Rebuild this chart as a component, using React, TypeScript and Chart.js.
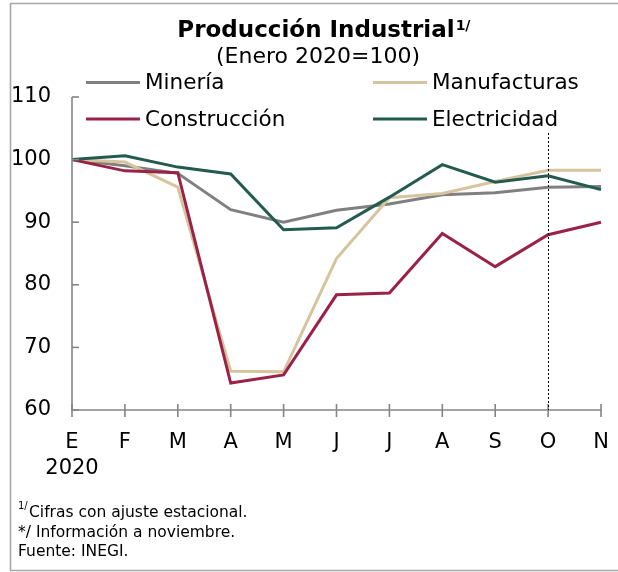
import React, { useEffect, useRef } from "react";
import { Chart, registerables } from "chart.js";

Chart.register(...registerables);

const categories: (string | string[])[] = [["E", "2020"], "F", "M", "A", "M", "J", "J", "A", "S", "O", "N"];
const mineria = [100, 99.0, 97.8, 92.0, 90.0, 91.9, 92.9, 94.4, 94.7, 95.6, 95.7];
const manufacturas = [100, 99.6, 95.6, 66.2, 66.1, 84.2, 93.9, 94.6, 96.5, 98.3, 98.3];
const construccion = [100, 98.2, 97.9, 64.3, 65.6, 78.4, 78.7, 88.2, 82.9, 88.0, 90.0];
const electricidad = [100, 100.6, 98.8, 97.7, 88.8, 89.1, 94.0, 99.2, 96.4, 97.4, 95.2];
const yTicks = [60, 70, 80, 90, 100, 110];
const dottedAtIndex = 9;

const FONT = "'DejaVu Sans', sans-serif";

const COLORS = {
  mineria: "#808080",
  manufacturas: "#D6C49F",
  construccion: "#9B2247",
  electricidad: "#235B4E",
};

const decorPlugin = {
  id: "decor",
  afterDraw(chart: any) {
    const ctx = chart.ctx as CanvasRenderingContext2D;
    const x = chart.scales.x;
    const y = chart.scales.y;
    const area = chart.chartArea;
    ctx.save();

    // outer frame
    ctx.strokeStyle = "#a8a8a8";
    ctx.lineWidth = 1.6;
    ctx.beginPath();
    ctx.moveTo(620, 3.5);
    ctx.lineTo(10.5, 3.5);
    ctx.lineTo(10.5, 570.5);
    ctx.lineTo(620, 570.5);
    ctx.stroke();

    // axes
    ctx.strokeStyle = "#858585";
    ctx.lineWidth = 1.6;
    ctx.beginPath();
    ctx.moveTo(area.left, y.getPixelForValue(110));
    ctx.lineTo(area.left, y.getPixelForValue(60));
    ctx.lineTo(area.right, y.getPixelForValue(60));
    ctx.stroke();
    yTicks.forEach((v) => {
      const py = y.getPixelForValue(v);
      ctx.beginPath();
      ctx.moveTo(area.left, py);
      ctx.lineTo(area.left + 7, py);
      ctx.stroke();
    });
    categories.forEach((_, i) => {
      const px = x.getPixelForValue(i);
      const by = y.getPixelForValue(60);
      ctx.beginPath();
      ctx.moveTo(px, by - 6);
      ctx.lineTo(px, by + 7);
      ctx.stroke();
    });

    // dotted line
    const dx = Math.round(x.getPixelForValue(dottedAtIndex)) + 0.5;
    ctx.strokeStyle = "#000";
    ctx.lineWidth = 1;
    ctx.setLineDash([2, 2]);
    ctx.beginPath();
    ctx.moveTo(dx, 133);
    ctx.lineTo(dx, y.getPixelForValue(60));
    ctx.stroke();
    ctx.setLineDash([]);

    // title
    ctx.fillStyle = "#000";
    ctx.textBaseline = "alphabetic";
    ctx.font = `bold 23px ${FONT}`;
    const title = "Producción Industrial";
    const tw = ctx.measureText(title).width;
    const tx = 316 - tw / 2;
    ctx.textAlign = "left";
    ctx.fillText(title, tx, 37);
    ctx.font = `bold 14px ${FONT}`;
    ctx.fillText("1/", tx + tw + 1, 30);

    ctx.font = `22px ${FONT}`;
    ctx.textAlign = "center";
    ctx.fillText("(Enero 2020=100)", 318, 63);

    // legend
    const legendItems = [
      { label: "Minería", color: COLORS.mineria, lx: 86, ly: 82.5 },
      { label: "Manufacturas", color: COLORS.manufacturas, lx: 373, ly: 82.5 },
      { label: "Construcción", color: COLORS.construccion, lx: 86, ly: 119 },
      { label: "Electricidad", color: COLORS.electricidad, lx: 373, ly: 119 },
    ];
    ctx.textAlign = "left";
    ctx.textBaseline = "middle";
    ctx.font = `21.5px ${FONT}`;
    legendItems.forEach((it) => {
      ctx.strokeStyle = it.color;
      ctx.lineWidth = 3;
      ctx.beginPath();
      ctx.moveTo(it.lx, it.ly);
      ctx.lineTo(it.lx + 54, it.ly);
      ctx.stroke();
      ctx.fillStyle = "#000";
      ctx.fillText(it.label, it.lx + 59, it.ly + 1);
    });

    // footer
    ctx.textBaseline = "alphabetic";
    ctx.fillStyle = "#000";
    ctx.font = `10px ${FONT}`;
    ctx.fillText("1/", 18, 509);
    ctx.font = `15.5px ${FONT}`;
    ctx.fillText("Cifras con ajuste estacional.", 29, 516.5);
    ctx.fillText("*/ Información a noviembre.", 18, 536.5);
    ctx.fillText("Fuente: INEGI.", 18, 556);

    ctx.restore();
  },
};

export default function App() {
  const ref = useRef<HTMLCanvasElement>(null);
  useEffect(() => {
    if (!ref.current) return;
    const ds = (label: string, data: number[], color: string, order: number) => ({
      label,
      data,
      borderColor: color,
      backgroundColor: color,
      borderWidth: 3,
      pointRadius: 0,
      tension: 0,
      fill: false,
      order,
    });
    const chart = new Chart(ref.current, {
      type: "line",
      data: {
        labels: categories as any,
        datasets: [
          ds("Minería", mineria, COLORS.mineria, 3),
          ds("Manufacturas", manufacturas, COLORS.manufacturas, 2),
          ds("Construcción", construccion, COLORS.construccion, 1),
          ds("Electricidad", electricidad, COLORS.electricidad, 0),
        ],
      },
      options: {
        responsive: false,
        animation: false,
        devicePixelRatio: 1,
        layout: { padding: { top: 97, right: 17, left: 0, bottom: 0 } },
        plugins: {
          legend: { display: false },
          tooltip: { enabled: false },
          title: { display: false },
        },
        scales: {
          x: {
            type: "category",
            offset: false,
            grid: { display: false, drawTicks: false, tickLength: 0 },
            border: { display: false },
            ticks: {
              color: "#000",
              font: { family: FONT, size: 21, lineHeight: 1.25 },
              padding: 19,
              maxRotation: 0,
              autoSkip: false,
            },
            afterFit: (s: any) => {
              s.height = 162;
              s.paddingLeft = 0;
              s.paddingRight = 0;
            },
          },
          y: {
            min: 60,
            max: 110,
            grid: { display: false, drawTicks: false, tickLength: 0 },
            border: { display: false },
            ticks: {
              stepSize: 10,
              color: "#000",
              font: { family: FONT, size: 21 },
              padding: 21,
            },
            afterFit: (s: any) => {
              s.width = 72;
              s.paddingTop = 0;
              s.paddingBottom = 0;
            },
          },
        },
      },
      plugins: [decorPlugin],
    });
    return () => chart.destroy();
  }, []);
  return (
    <div style={{ position: "fixed", left: 0, top: 0, width: 618, height: 572, background: "#fff" }}>
      <canvas ref={ref} width={618} height={572} style={{ display: "block", width: 618, height: 572 }} />
    </div>
  );
}
